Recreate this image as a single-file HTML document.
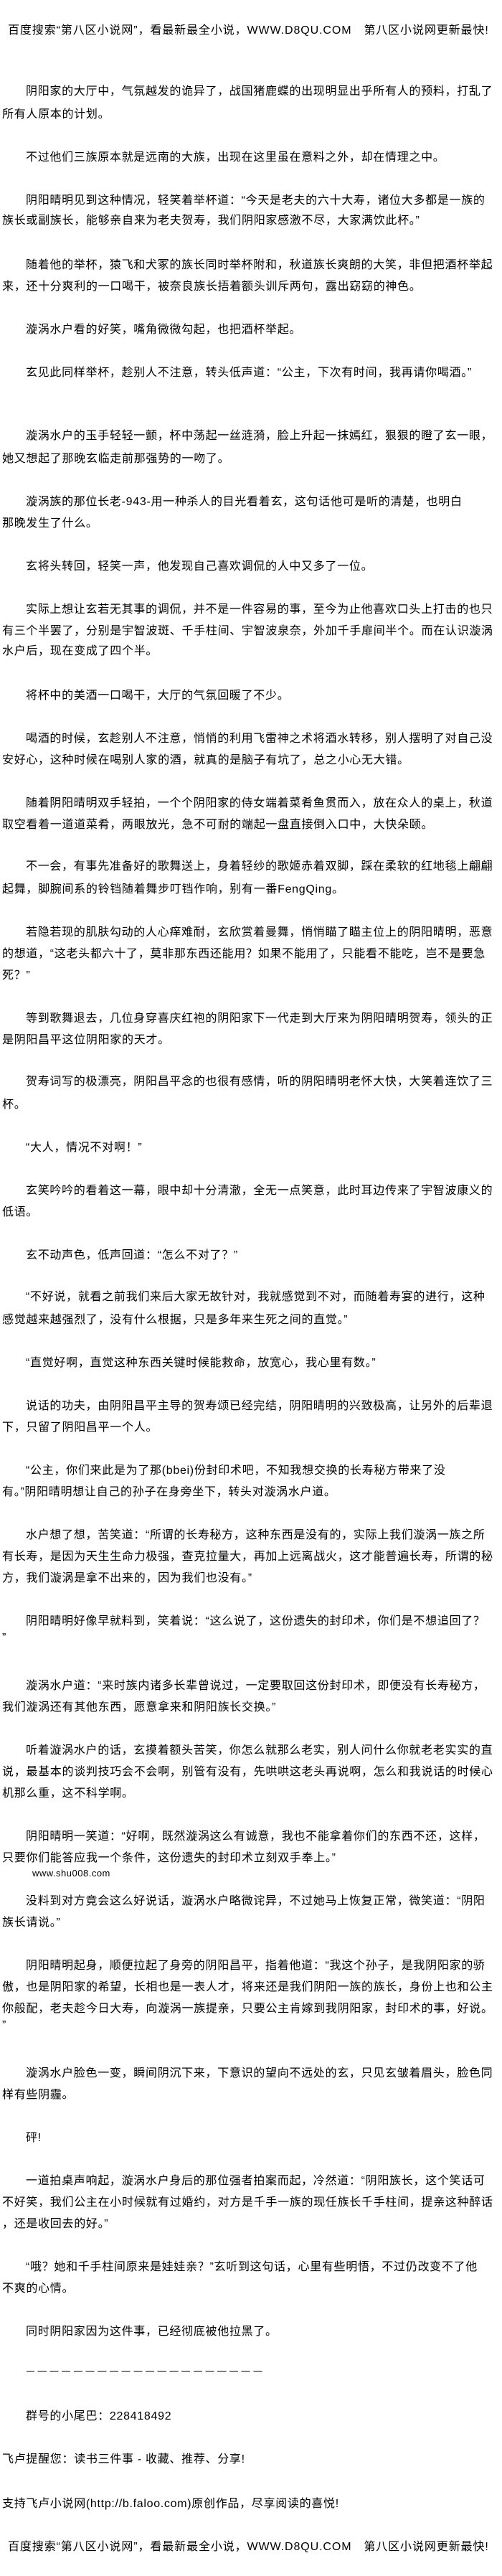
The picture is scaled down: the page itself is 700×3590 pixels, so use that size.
<!DOCTYPE html>
<html><head><meta charset="utf-8">
<style>
html,body{margin:0;padding:0;background:#fff;}
body{width:700px;height:3590px;position:relative;overflow:hidden;
font-family:"Liberation Sans","WenQuanYi Zen Hei","Noto Sans CJK SC",sans-serif;color:#000;}
.l{position:absolute;left:3px;height:20px;line-height:20px;font-size:16px;letter-spacing:0.7px;white-space:nowrap;}
.i{left:36px;}
.h{left:11px;letter-spacing:0.9px;}
</style></head><body>
<div class="l h" style="top:33px">百度搜索“第八区小说网”，看最新最全小说，WWW.D8QU.COM　第八区小说网更新最快!</div>

<div class="l i" style="top:118px">阴阳家的大厅中，气氛越发的诡异了，战国猪鹿蝶的出现明显出乎所有人的预料，打乱了</div>
<div class="l" style="top:150px">所有人原本的计划。</div>
<div class="l i" style="top:210px">不过他们三族原本就是远南的大族，出现在这里虽在意料之外，却在情理之中。</div>
<div class="l i" style="top:270px">阴阳晴明见到这种情况，轻笑着举杯道：“今天是老夫的六十大寿，诸位大多都是一族的</div>
<div class="l" style="top:298px">族长或副族长，能够亲自来为老夫贺寿，我们阴阳家感激不尽，大家满饮此杯。”</div>
<div class="l i" style="top:360px">随着他的举杯，猿飞和犬冢的族长同时举杯附和，秋道族长爽朗的大笑，非但把酒杯举起</div>
<div class="l" style="top:390px">来，还十分爽利的一口喝干，被奈良族长捂着额头训斥两句，露出窈窈的神色。</div>
<div class="l i" style="top:450px">漩涡水户看的好笑，嘴角微微勾起，也把酒杯举起。</div>
<div class="l i" style="top:510px">玄见此同样举杯，趁别人不注意，转头低声道：“公主，下次有时间，我再请你喝酒。”</div>
<div class="l i" style="top:598px">漩涡水户的玉手轻轻一颤，杯中荡起一丝涟漪，脸上升起一抹嫣红，狠狠的瞪了玄一眼，</div>
<div class="l" style="top:630px">她又想起了那晚玄临走前那强势的一吻了。</div>
<div class="l i" style="top:690px">漩涡族的那位长老-943-用一种杀人的目光看着玄，这句话他可是听的清楚，也明白</div>
<div class="l" style="top:720px">那晚发生了什么。</div>
<div class="l i" style="top:780px">玄将头转回，轻笑一声，他发现自己喜欢调侃的人中又多了一位。</div>
<div class="l i" style="top:840px">实际上想让玄若无其事的调侃，并不是一件容易的事，至今为止他喜欢口头上打击的也只</div>
<div class="l" style="top:870px">有三个半罢了，分别是宇智波斑、千手柱间、宇智波泉奈，外加千手扉间半个。而在认识漩涡</div>
<div class="l" style="top:898px">水户后，现在变成了四个半。</div>
<div class="l i" style="top:960px">将杯中的美酒一口喝干，大厅的气氛回暖了不少。</div>
<div class="l i" style="top:1020px">喝酒的时候，玄趁别人不注意，悄悄的利用飞雷神之术将酒水转移，别人摆明了对自己没</div>
<div class="l" style="top:1050px">安好心，这种时候在喝别人家的酒，就真的是脑子有坑了，总之小心无大错。</div>
<div class="l i" style="top:1110px">随着阴阳晴明双手轻拍，一个个阴阳家的侍女端着菜肴鱼贯而入，放在众人的桌上，秋道</div>
<div class="l" style="top:1140px">取空看着一道道菜肴，两眼放光，急不可耐的端起一盘直接倒入口中，大快朵颐。</div>
<div class="l i" style="top:1198px">不一会，有事先准备好的歌舞送上，身着轻纱的歌姬赤着双脚，踩在柔软的红地毯上翩翩</div>
<div class="l" style="top:1230px">起舞，脚腕间系的铃铛随着舞步叮铛作响，别有一番FengQing。</div>
<div class="l i" style="top:1290px">若隐若现的肌肤勾动的人心痒难耐，玄欣赏着曼舞，悄悄瞄了瞄主位上的阴阳晴明，恶意</div>
<div class="l" style="top:1320px">的想道，“这老头都六十了，莫非那东西还能用？如果不能用了，只能看不能吃，岂不是要急</div>
<div class="l" style="top:1350px">死？”</div>
<div class="l i" style="top:1410px">等到歌舞退去，几位身穿喜庆红袍的阴阳家下一代走到大厅来为阴阳晴明贺寿，领头的正</div>
<div class="l" style="top:1440px">是阴阳昌平这位阴阳家的天才。</div>
<div class="l i" style="top:1498px">贺寿词写的极漂亮，阴阳昌平念的也很有感情，听的阴阳晴明老怀大快，大笑着连饮了三</div>
<div class="l" style="top:1530px">杯。</div>
<div class="l i" style="top:1590px">“大人，情况不对啊！”</div>
<div class="l i" style="top:1650px">玄笑吟吟的看着这一幕，眼中却十分清澈，全无一点笑意，此时耳边传来了宇智波康义的</div>
<div class="l" style="top:1680px">低语。</div>
<div class="l i" style="top:1740px">玄不动声色，低声回道：“怎么不对了？”</div>
<div class="l i" style="top:1798px">“不好说，就看之前我们来后大家无故针对，我就感觉到不对，而随着寿宴的进行，这种</div>
<div class="l" style="top:1830px">感觉越来越强烈了，没有什么根据，只是多年来生死之间的直觉。”</div>
<div class="l i" style="top:1890px">“直觉好啊，直觉这种东西关键时候能救命，放宽心，我心里有数。”</div>
<div class="l i" style="top:1950px">说话的功夫，由阴阳昌平主导的贺寿颂已经完结，阴阳晴明的兴致极高，让另外的后辈退</div>
<div class="l" style="top:1980px">下，只留了阴阳昌平一个人。</div>
<div class="l i" style="top:2040px">“公主，你们来此是为了那(bbei)份封印术吧，不知我想交换的长寿秘方带来了没</div>
<div class="l" style="top:2070px">有。”阴阳晴明想让自己的孙子在身旁坐下，转头对漩涡水户道。</div>
<div class="l i" style="top:2130px">水户想了想，苦笑道：“所谓的长寿秘方，这种东西是没有的，实际上我们漩涡一族之所</div>
<div class="l" style="top:2160px">有长寿，是因为天生生命力极强，查克拉量大，再加上远离战火，这才能普遍长寿，所谓的秘</div>
<div class="l" style="top:2190px">方，我们漩涡是拿不出来的，因为我们也没有。”</div>
<div class="l i" style="top:2250px">阴阳晴明好像早就料到，笑着说：“这么说了，这份遗失的封印术，你们是不想追回了？</div>
<div class="l" style="top:2273px">”</div>
<div class="l i" style="top:2340px">漩涡水户道：“来时族内诸多长辈曾说过，一定要取回这份封印术，即便没有长寿秘方，</div>
<div class="l" style="top:2370px">我们漩涡还有其他东西，愿意拿来和阴阳族长交换。”</div>
<div class="l i" style="top:2430px">听着漩涡水户的话，玄摸着额头苦笑，你怎么就那么老实，别人问什么你就老老实实的直</div>
<div class="l" style="top:2460px">说，最基本的谈判技巧会不会啊，别管有没有，先哄哄这老头再说啊，怎么和我说话的时候心</div>
<div class="l" style="top:2490px">机那么重，这不科学啊。</div>
<div class="l i" style="top:2550px">阴阳晴明一笑道：“好啊，既然漩涡这么有诚意，我也不能拿着你们的东西不还，这样，</div>
<div class="l" style="top:2580px">只要你们能答应我一个条件，这份遗失的封印术立刻双手奉上。”</div>
<div class="l" style="top:2601px;left:45px;font-size:13px;letter-spacing:0.5px">www.shu008.com</div>
<div class="l i" style="top:2640px">没料到对方竟会这么好说话，漩涡水户略微诧异，不过她马上恢复正常，微笑道：“阴阳</div>
<div class="l" style="top:2670px">族长请说。”</div>
<div class="l i" style="top:2730px">阴阳晴明起身，顺便拉起了身旁的阴阳昌平，指着他道：“我这个孙子，是我阴阳家的骄</div>
<div class="l" style="top:2760px">傲，也是阴阳家的希望，长相也是一表人才，将来还是我们阴阳一族的族长，身份上也和公主</div>
<div class="l" style="top:2790px">你般配，老夫趁今日大寿，向漩涡一族提亲，只要公主肯嫁到我阴阳家，封印术的事，好说。</div>
<div class="l" style="top:2813px">”</div>
<div class="l i" style="top:2880px">漩涡水户脸色一变，瞬间阴沉下来，下意识的望向不远处的玄，只见玄皱着眉头，脸色同</div>
<div class="l" style="top:2910px">样有些阴霾。</div>
<div class="l i" style="top:2970px">砰!</div>
<div class="l i" style="top:3030px">一道拍桌声响起，漩涡水户身后的那位强者拍案而起，冷然道：“阴阳族长，这个笑话可</div>
<div class="l" style="top:3060px">不好笑，我们公主在小时候就有过婚约，对方是千手一族的现任族长千手柱间，提亲这种醉话</div>
<div class="l" style="top:3090px">，还是收回去的好。”</div>
<div class="l i" style="top:3150px">“哦？她和千手柱间原来是娃娃亲？”玄听到这句话，心里有些明悟，不过仍改变不了他</div>
<div class="l" style="top:3180px">不爽的心情。</div>
<div class="l i" style="top:3240px">同时阴阳家因为这件事，已经彻底被他拉黑了。</div>
<div style="position:absolute;left:37px;top:3304px;width:332px;height:0;border-top:1px dashed #000;border-image:repeating-linear-gradient(90deg,#000 0 12px,transparent 12px 16.6px) 1;"></div>
<div class="l i" style="top:3358px">群号的小尾巴：228418492</div>
<div class="l" style="top:3418px">飞卢提醒您：读书三件事 - 收藏、推荐、分享!</div>
<div class="l" style="top:3480px">支持飞卢小说网(http://b.faloo.com)原创作品，尽享阅读的喜悦!</div>
<div class="l h" style="top:3540px">百度搜索“第八区小说网”，看最新最全小说，WWW.D8QU.COM　第八区小说网更新最快!</div>
</body></html>
